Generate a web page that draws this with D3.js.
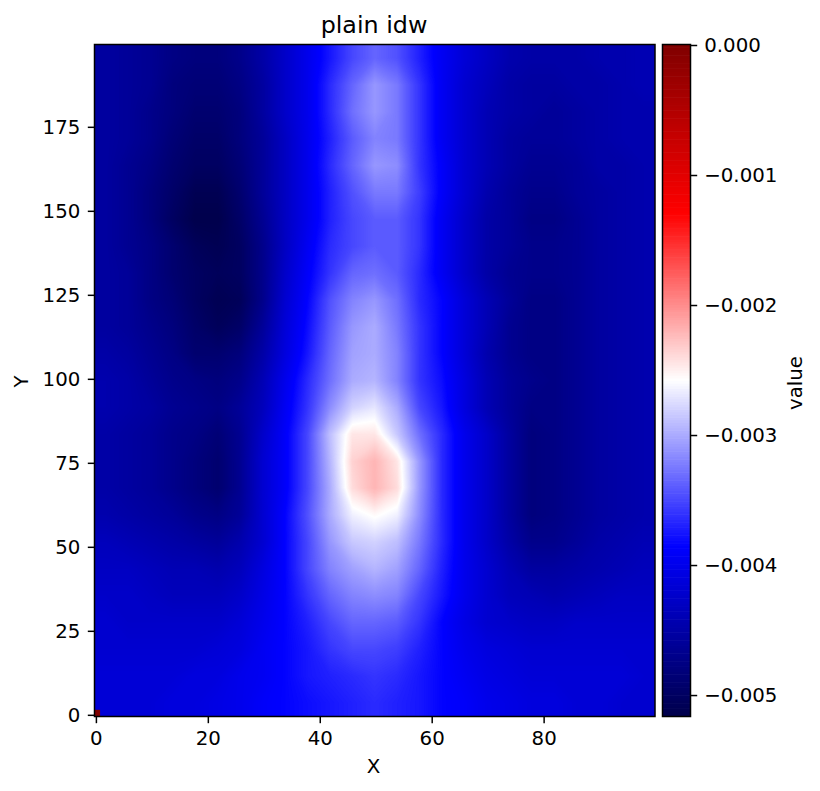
<!DOCTYPE html>
<html>
<head>
<meta charset="utf-8">
<script src="https://cdn.jsdelivr.net/npm/d3@7"></script>
<style>
body { margin: 0; background: #fff; }
text { font-family: "DejaVu Sans", sans-serif; fill: #000; }
</style>
</head>
<body>
<svg id="chart"></svg>
<script>
let w = 820;
let h = 791;

let xTicks = [0, 20, 40, 60, 80];
let yTicks = [0, 25, 50, 75, 100, 125, 150, 175];
let cbarTicks = [0, -0.001, -0.002, -0.003, -0.004, -0.005];
let colorStops = [-0.00515, -0.00386, -0.002575, -0.00129, 0];
let colorRange = ['#00004c', '#0000ff', '#ffffff', '#ff0000', '#800000'];

// in units of 1e-4. columns x=2,6,...,98, rows y=196,188,...,4
let gridRows = [
  [-45.5,-46,-46.5,-47.5,-48,-48,-47,-45,-42.5,-40,-37.5,-35,-33.5,-34.5,-37,-39.5,-41.5,-43,-44.5,-45,-45,-45,-44.5,-44.5,-44],
  [-45.5,-46,-46.5,-48,-48.5,-48.5,-47.5,-45.5,-42.5,-40,-36.5,-33.5,-31,-32.5,-36,-39.5,-42,-43.5,-45,-45.5,-45.5,-45,-45,-44.5,-44],
  [-45.5,-46,-47,-48,-49,-49,-48,-45.5,-42.5,-40,-36.5,-33,-31,-32.5,-36,-39.5,-42,-44,-45,-45.5,-46,-45.5,-45,-44.5,-44.5],
  [-45.5,-46,-47,-48.5,-49.5,-49.5,-48,-46,-43,-40,-37,-34,-32,-32.5,-36,-39.5,-42,-44,-45.5,-46,-46,-45.5,-45,-44.5,-44.5],
  [-45.5,-46.5,-47.5,-49,-50,-50,-48.5,-46,-43,-40,-36.5,-33.5,-31,-31.5,-36,-39,-42,-44,-45.5,-46.5,-46.5,-46,-45,-45,-44.5],
  [-45.5,-46.5,-48,-49.5,-51,-51,-49,-46,-43,-40,-37,-34.5,-32.5,-32.5,-35.5,-39,-42,-44.5,-46,-47,-47,-46,-45.5,-45,-44.5],
  [-45.5,-46.5,-48,-50,-51.5,-51.5,-49.5,-46.5,-43,-40,-37,-35,-34,-34,-36,-39.5,-42.5,-45,-46,-47.5,-47.5,-46.5,-45.5,-45,-44.5],
  [-45.5,-46.5,-47.5,-49,-50.5,-51,-50,-47,-43,-39.5,-36.5,-35,-34,-34,-36,-39.5,-42.5,-45,-46,-47,-47,-46.5,-45.5,-45,-44.5],
  [-45.5,-46,-47.5,-49,-50,-50.5,-50,-47,-42.5,-39,-36,-33.5,-33,-34,-36.5,-39.5,-42.5,-45,-46.5,-47,-47,-46.5,-45.5,-45,-44.5],
  [-45.5,-46,-47.5,-48.5,-50,-51,-50.5,-47,-42,-38.5,-34.5,-32,-31,-33,-36.5,-38.5,-41.5,-44,-46,-47.5,-47.5,-46.5,-45.5,-45,-44.5],
  [-45.5,-46,-47,-48,-49.5,-50.5,-49.5,-46,-41.5,-38,-34,-31,-30,-32.5,-36,-38.5,-41.5,-44,-46.5,-47.5,-47.5,-46.5,-45.5,-45,-44.5],
  [-45,-45.5,-46.5,-47.5,-49,-49,-48,-45,-41,-37.5,-33.5,-30.5,-30,-32,-36,-38.5,-41.5,-44.5,-46.5,-47.5,-47.5,-46.5,-45.5,-45,-44.5],
  [-44.5,-45,-46,-47,-47.5,-48,-47,-44,-40,-36.5,-33,-30,-29.5,-32,-36,-38,-41,-44,-46,-47,-47.5,-46.5,-45.5,-45,-44.5],
  [-44.5,-45,-45.5,-46.5,-47,-47.5,-46,-43.5,-39.5,-36,-31.5,-28,-27,-30,-35,-37.5,-41,-44,-46,-47.5,-47.5,-46.5,-45.5,-45,-44.5],
  [-45,-45.5,-46,-47,-47.5,-48.5,-46.5,-42.5,-39,-35,-29,-24.5,-24.5,-28.5,-33,-36.5,-40,-42.5,-45.5,-48,-47.5,-46.5,-45.5,-45,-44.5],
  [-45,-45.5,-46,-47,-48,-49,-46.5,-42,-39,-35,-29.5,-23.5,-22,-24.5,-31,-36.5,-40,-42.5,-45.5,-48,-47.5,-46.5,-45.5,-45,-44.5],
  [-45,-45.5,-46,-47,-48,-49,-46.5,-42,-39,-35,-30,-24,-22,-24,-31,-36.5,-40,-42.5,-45.5,-48,-47.5,-46.5,-45.5,-45,-44.5],
  [-44.5,-45,-45.5,-46,-47,-47.5,-46,-42,-38.5,-34.5,-30,-26.5,-25.5,-26.5,-31.5,-36.5,-40,-42.5,-45.5,-48,-47.5,-46.5,-45.5,-45,-44.5],
  [-43.5,-44,-44.5,-45,-45.5,-46,-44.5,-42,-38.5,-35,-31,-28.5,-28,-29,-32.5,-36.5,-40,-42.5,-45,-47,-47,-46,-45,-44.5,-44],
  [-43,-43,-43.5,-44,-44,-44.5,-43.5,-41,-38.5,-35,-32,-30.5,-29.5,-30.5,-33.5,-37,-40,-42,-44,-45.5,-45.5,-45,-44.5,-44,-43.5],
  [-42.5,-42.5,-43,-43.5,-43.5,-43.5,-42.5,-40.5,-38.5,-36,-33.5,-32,-31.5,-32,-35,-37.5,-40,-42,-43.5,-44,-44.5,-44,-43.5,-43,-43],
  [-42,-42.5,-42.5,-42.5,-42.5,-42.5,-41.5,-40,-38.5,-37,-35,-33.5,-33.5,-34,-36,-38.5,-40.5,-42,-42.5,-43,-43,-42.5,-42.5,-42.5,-42.5],
  [-42,-42,-42,-42,-42,-41.5,-41,-39.5,-38.5,-37.5,-36,-35,-35,-35.5,-37,-38.5,-40,-41,-41.5,-42,-42,-42,-42,-42,-42],
  [-41.5,-41.5,-41.5,-41.5,-41,-41,-40,-39.5,-38.5,-37.5,-37,-36.5,-36,-36.5,-37.5,-38.5,-39.5,-40.5,-41,-41.5,-41.5,-41.5,-41.5,-41.5,-42],
  [-41.5,-41.5,-41.5,-41,-41,-40.5,-40,-39,-38.5,-38,-37.5,-37,-36.5,-37,-37.5,-38.5,-39,-40,-40.5,-41,-41,-41.5,-41.5,-42,-42]
];
// the one hot cell in the corner
let hotCell = { col: 0, row: 0, value: 0 };

let svg = d3.select('#chart').attr('width', w).attr('height', h);

let pLeft = 94.5, pRight = 655, pTop = 44.5, pBottom = 716.5;
let fontSize = 19.8;
let tickLen = 6.7;
let lineW = 1.5;

let x = d3.scaleLinear().domain([-0.25, 99.9]).range([pLeft, pRight]);
let y = d3.scaleLinear().domain([-0.5, 199.5]).range([pBottom, pTop]);
let color = d3.scaleLinear().domain(colorStops).range(colorRange).clamp(true);

// repeat the edge cells once so the contour corners fall outside the clip
let padRow = r => [r[0], ...r, r[r.length - 1]];
let padded = [gridRows[0], ...gridRows, gridRows[gridRows.length - 1]].map(padRow);
let nRows = gridRows.length;
let nCols = gridRows[0].length;
let gridX = d3.scaleLinear().domain([1, nCols + 1]).range([pLeft, pRight]);
let gridY = d3.scaleLinear().domain([1, nRows + 1]).range([pTop, pBottom]);

let flat = padded.flat().map(v => v * 1e-4);
let step = 0.00001;
let thresholds = d3.range(-0.00516, -0.0020, step);
let contours = d3.contours().size([nCols + 2, nRows + 2]).smooth(true).thresholds(thresholds)(flat);

let project = d3.geoTransform({
  point: function (px, py) { this.stream.point(gridX(px), gridY(py)); }
});

svg.append('clipPath').attr('id', 'plot-clip').append('rect')
  .attr('x', pLeft).attr('y', pTop).attr('width', pRight - pLeft).attr('height', pBottom - pTop);

let plot = svg.append('g').attr('clip-path', 'url(#plot-clip)');
plot.selectAll('path')
  .data(contours)
  .enter()
  .append('path')
  .attr('d', d3.geoPath(project))
  .attr('fill', d => color(d.value + step / 2));

plot.append('rect')
  .attr('x', x(hotCell.col - 0.25))
  .attr('y', y(hotCell.row + 1.5))
  .attr('width', x(1) - x(0))
  .attr('height', y(0) - y(2))
  .attr('fill', color(hotCell.value));

svg.append('rect')
  .attr('x', pLeft).attr('y', pTop).attr('width', pRight - pLeft).attr('height', pBottom - pTop)
  .attr('fill', 'none').attr('stroke', '#000').attr('stroke-width', lineW);

let styleAxis = g => {
  g.select('.domain').remove();
  g.selectAll('line').attr('stroke', '#000').attr('stroke-width', lineW);
  g.selectAll('text').attr('font-size', fontSize).attr('fill', '#000');
};

svg.append('g')
  .attr('transform', `translate(0,${pBottom})`)
  .call(d3.axisBottom(x).tickValues(xTicks).tickSize(tickLen).tickPadding(8).tickFormat(d3.format('d')))
  .call(styleAxis);

svg.append('g')
  .attr('transform', `translate(${pLeft},0)`)
  .call(d3.axisLeft(y).tickValues(yTicks).tickSize(tickLen).tickPadding(7.5).tickFormat(d3.format('d')))
  .call(styleAxis);

// colorbar
let cbLeft = 662.5, cbRight = 690.5;
let cb = d3.scaleLinear().domain([-0.005165, 0]).range([pBottom, pTop + 0.5]);
let cbLevels = d3.range(256).map(i => cb.domain()[0] + (i + 0.5) * (0 - cb.domain()[0]) / 256);
let cbStep = (pBottom - pTop) / 256;

svg.append('g').selectAll('rect')
  .data(cbLevels)
  .enter()
  .append('rect')
  .attr('x', cbLeft)
  .attr('y', d => cb(d) - cbStep / 2 - 0.3)
  .attr('width', cbRight - cbLeft)
  .attr('height', cbStep + 0.6)
  .attr('fill', d => color(d));

svg.append('rect')
  .attr('x', cbLeft).attr('y', pTop).attr('width', cbRight - cbLeft).attr('height', pBottom - pTop)
  .attr('fill', 'none').attr('stroke', '#000').attr('stroke-width', lineW);

svg.append('g')
  .attr('transform', `translate(${cbRight},0)`)
  .call(d3.axisRight(cb).tickValues(cbarTicks).tickSize(tickLen).tickPadding(7)
    .tickFormat(d => d3.format('.3f')(d).replace('-', '\u2212')))
  .call(styleAxis);

// labels
svg.append('text').attr('x', 374).attr('y', 33)
  .attr('text-anchor', 'middle').attr('font-size', 23.8).text('plain idw');
svg.append('text').attr('x', 373.5).attr('y', 773)
  .attr('text-anchor', 'middle').attr('font-size', fontSize).text('X');
svg.append('text').attr('transform', `translate(28,381.5) rotate(-90)`)
  .attr('text-anchor', 'middle').attr('font-size', fontSize).text('Y');
svg.append('text').attr('transform', `translate(802,383) rotate(-90)`)
  .attr('text-anchor', 'middle').attr('font-size', fontSize).text('value');
</script>
</body>
</html>
